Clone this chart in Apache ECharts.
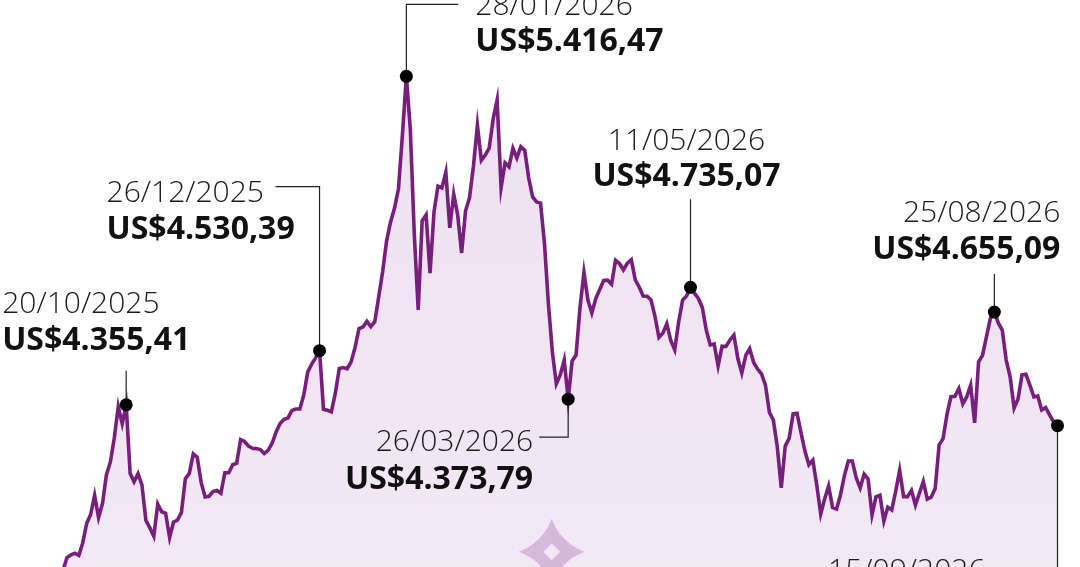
<!DOCTYPE html>
<html><head><meta charset="utf-8">
<script src="https://cdn.jsdelivr.net/npm/echarts@6/dist/echarts.min.js"></script>
<style>html,body{margin:0;padding:0;background:#fff;overflow:hidden}#c{width:1080px;height:567px}</style>
</head><body><div id="c"></div>
<script>
// ---- data ----
const startDate = '2025-09-23'; // first trading day in the series (weekdays)
const prices = [
 3725,3757,3790,3822,3862,3871,3876,3869,3910,3973,
 4001,4063,3991,4037,4130,4171,4250,4350,4294,4355.41,
 4134,4107,4133,4096,3982,3958,3931,4035,4010,4005,
 3927,3977,3983,4008,4117,4134,4197,4186,4105,4058,
 4060,4075,4079,4070,4136,4136,4162,4167,4243,4237,
 4222,4215,4214,4211,4198,4209,4232,4268,4295,4309,
 4313,4337,4342,4342,4387,4461,4487,4507,4530.39,4341,
 4338,4333,4393,4473,4476,4472,4494,4541,4602,4607,
 4625,4608,4624,4705,4787,4886,4946,4991,5053,5227,
 5416.47,5246,4910,4662,4950,4969,4781,4978,5062,5056,
 5107,4927,5036,4969,4846,4982,5024,5127,5259,5145,
 5162,5185,5279,5340,5057,5137,5124,5184,5153,5189,
 5177,5088,5027,5011,5007,4876,4681,4526,4423,4452,
 4500,4373.79,4497,4516,4670,4783,4694,4652,4699,4728,
 4757,4758,4745,4822,4812,4791,4813,4824,4759,4736,
 4707,4706,4694,4641,4573,4587,4617,4563,4533,4623,
 4694,4707,4735.07,4716,4699,4670,4597,4549,4552,4481,
 4545,4544,4565,4581,4505,4458,4515,4537,4492,4471,
 4455,4419,4331,4306,4219,4087,4222,4247,4326,4328,
 4266,4206,4162,4177,4096,4003,4052,4093,4024,4019,
 4064,4127,4174,4174,4119,4087,4132,4116,4000,4058,
 4063,3980,4025,4016,4077,4144,4059,4059,4079,4031,
 4070,4108,4051,4057,4085,4226,4246,4325,4382,4383,
 4408,4358,4381,4419,4297,4494,4515,4576,4635,4655.09,
 4620,4597,4500,4446,4345,4374,4452,4454,4419,4381,
 4384,4339,4347,4323,4300,4288
];
const annDates  = ['20/10/2025','26/12/2025','28/01/2026','26/03/2026','11/05/2026','25/08/2026','15/09/2026'];
const annValues = [4355.41, 4530.39, 5416.47, 4373.79, 4735.07, 4655.09, 4288];
const annIndex  = [19, 68, 90, 131, 162, 239, 255];
const showValue = [true, true, true, true, true, true, false];

// categories: weekday dates
const categories = [];
(function(){
  const d = new Date(startDate + 'T00:00:00Z');
  while (categories.length < prices.length) {
    const wd = d.getUTCDay();
    if (wd !== 0 && wd !== 6) {
      const dd = String(d.getUTCDate()).padStart(2,'0');
      const mm = String(d.getUTCMonth()+1).padStart(2,'0');
      categories.push(dd + '/' + mm + '/' + d.getUTCFullYear());
    }
    d.setUTCDate(d.getUTCDate() + 1);
  }
})();

function fmtBR(v){
  const parts = v.toFixed(2).split('.');
  const intp = parts[0].replace(/\B(?=(\d{3})+(?!\d))/g, '.');
  return 'US$' + intp + ',' + parts[1];
}

// ---- layout (relative to each annotated point; text y = top of text box) ----
const annLayout = [
 {align:'left',   dx:-124, dateDy:-115, valDy:-80,  leader:[[0,0],[0,-34]]},
 {align:'left',   dx:-213, dateDy:-172, valDy:-137, leader:[[0,0],[0,-164],[-44,-164]]},
 {align:'left',   dx:69,   dateDy:-85,  valDy:-50,  leader:[[0,0],[0,-72],[52,-72]]},
 {align:'right',  dx:-35,  dateDy:28,   valDy:65,   leader:[[0,0],[0,38],[-29,38]]},
 {align:'center', dx:-4,   dateDy:-161, valDy:-126, leader:[[0,0],[0,-88]]},
 {align:'right',  dx:66,   dateDy:-114, valDy:-78,  leader:[[0,0],[0,-38]]},
 {align:'right',  dx:-72,  dateDy:131,  valDy:166,  leader:[[0,0],[0,170]]}
];

const chart = echarts.init(document.getElementById('c'), null, {renderer:'canvas'});
const DATE_FONT = '300 30px "Open Sans"';
const VAL_FONT  = '700 32px "Open Sans"';

chart.setOption({
  animation:false,
  backgroundColor:'#ffffff',
  grid:{left:51.2, right:22.5, top:0, bottom:0},
  xAxis:{type:'category', data:categories, boundaryGap:false, show:false},
  yAxis:{type:'value', min:3831.6, max:5663, show:false, splitLine:{show:false}},
  series:[
    {type:'line', data:prices, symbol:'none', z:2, silent:true,
     lineStyle:{color:'#781f7d', width:3.6, join:'miter'},
     areaStyle:{opacity:1, color:new echarts.graphic.LinearGradient(0,0,0,1,[
        {offset:0, color:'#eee0f1'},{offset:1, color:'#f3e9f5'}])}},
    {type:'scatter', z:6, silent:true, symbolSize:13, itemStyle:{color:'#000', opacity:1},
     data: annIndex.map((ix,k)=>[ix, annValues[k]])}
  ]
});

// decorations and annotation texts, positioned from the chart's own scale
const g = [];
// sparkle decoration (concave four-point star)
(function(){
  const cx = 551.7, cy = 551.7, r = 33, d = 9;
  const tips = [[cx,cy-r],[cx+r,cy],[cx,cy+r],[cx-r,cy]];
  const ctrl = [[cx+d,cy-d],[cx+d,cy+d],[cx-d,cy+d],[cx-d,cy-d]];
  const pts = [];
  for (let k=0;k<4;k++){
    const a = tips[k], b = tips[(k+1)%4], c = ctrl[k];
    for (let t=0;t<1;t+=0.05){
      const u = 1-t;
      pts.push([u*u*a[0]+2*u*t*c[0]+t*t*b[0], u*u*a[1]+2*u*t*c[1]+t*t*b[1]]);
    }
  }
  g.push({type:'polygon', z:3, silent:true, shape:{points:pts}, style:{fill:'#d7b8dc'}});
  const s = 8.5;
  g.push({type:'polygon', z:3, silent:true,
    shape:{points:[[cx,cy-s],[cx+s,cy],[cx,cy+s],[cx-s,cy]]},
    style:{fill:'#f1e6f3'}});
})();
annIndex.forEach((ix,k)=>{
  const p = chart.convertToPixel({gridIndex:0}, [ix, annValues[k]]);
  const L = annLayout[k];
  g.push({type:'polyline', z:4, silent:true,
    shape:{points:L.leader.map(q=>[p[0]+q[0], p[1]+q[1]])},
    style:{stroke:'#222', lineWidth:1.2, fill:null}});
  g.push({type:'text', z:10, silent:true, x:p[0]+L.dx, y:p[1]+L.dateDy,
    style:{text:annDates[k], font:DATE_FONT, fill:'#1a1a1a', align:L.align, verticalAlign:'top'}});
  if (showValue[k]) {
    g.push({type:'text', z:10, silent:true, x:p[0]+L.dx, y:p[1]+L.valDy,
      style:{text:fmtBR(annValues[k]), font:VAL_FONT, fill:'#111', align:L.align, verticalAlign:'top'}});
  }
});
chart.setOption({graphic:{elements:g}});
</script>
</body></html>
